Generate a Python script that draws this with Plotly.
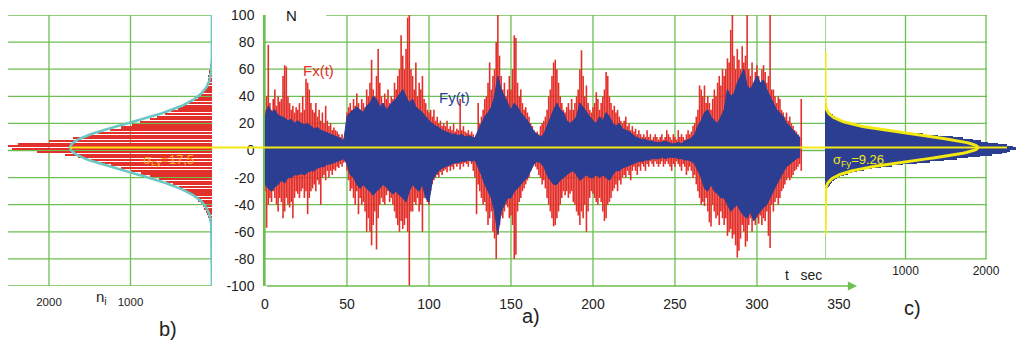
import math
import plotly.graph_objects as go

W, H = 1016, 344

# ---------------- data ----------------
# Fx(t): upper / lower envelope, one sample per second, t = 0 .. 327 s
fx_hi = [
    30, 40, 78, 35, 30, 38, 45, 33, 40, 36,
    38, 55, 63, 62, 40, 35, 30, 33, 28, 32,
    30, 35, 28, 40, 30, 53, 50, 45, 35, 30,
    28, 35, 25, 30, 22, 28, 20, 33, 22, 18,
    20, 15, 17, 15, 14, 12, 10, 12, 9, 8,
    28, 32, 35, 30, 38, 33, 42, 35, 30, 38,
    35, 32, 45, 40, 50, 67, 45, 40, 55, 75,
    50, 40, 35, 42, 38, 45, 35, 40, 38, 50,
    45, 55, 60, 85, 70, 60, 75, 98, 100, 60,
    55, 45, 65, 40, 50, 45, 55, 38, 35, 30,
    28, 30, 25, 30, 22, 25, 20, 22, 18, 20,
    18, 22, 16, 18, 15, 20, 14, 16, 15, 38,
    15, 18, 14, 13, 15, 12, 14, 12, 10, 12,
    35, 20, 25, 30, 38, 40, 50, 65, 45, 55,
    60, 80, 100, 70, 55, 45, 50, 40, 45, 55,
    45, 60, 85, 83, 50, 40, 45, 35, 30, 32,
    28, 25, 20, 18, 15, 12, 14, 12, 18, 20,
    22, 25, 30, 40, 45, 55, 65, 67, 60, 50,
    40, 35, 30, 28, 32, 35, 30, 38, 30, 35,
    40, 45, 60, 74, 55, 40, 48, 35, 30, 28,
    32, 35, 43, 38, 30, 35, 40, 45, 58, 55,
    40, 35, 30, 33, 28, 30, 25, 22, 20, 22,
    25, 18, 20, 15, 18, 14, 16, 12, 15, 12,
    10, 12, 10, 15, 10, 12, 8, 10, 12, 10,
    8, 10, 12, 8, 10, 15, 12, 10, 8, 12,
    10, 8, 15, 10, 12, 10, 8, 12, 15, 12,
    14, 18, 20, 25, 30, 48, 45, 40, 48, 35,
    40, 35, 30, 38, 45, 40, 50, 55, 48, 60,
    55, 60, 68, 65, 89, 100, 70, 60, 75, 67,
    60, 77, 65, 70, 100, 60, 55, 65, 50, 58,
    63, 55, 50, 60, 63, 58, 50, 55, 100, 45,
    45, 40, 35, 40, 38, 30, 28, 25, 28, 22,
    25, 20, 18, 15, 14, 12, 10, 38,
]
fx_lo = [
    -30, -57, -40, -35, -38, -30, -35, -40, -45, -35,
    -38, -50, -45, -35, -40, -42, -38, -50, -35, -30,
    -32, -35, -30, -28, -35, -30, -47, -35, -30, -28,
    -25, -30, -22, -25, -40, -20, -18, -22, -15, -20,
    -15, -18, -14, -15, -12, -13, -10, -12, -9, -8,
    -15, -22, -30, -28, -35, -40, -30, -47, -35, -40,
    -38, -45, -60, -50, -60, -70, -55, -45, -73, -50,
    -40, -35, -38, -40, -33, -30, -38, -35, -40, -45,
    -50, -55, -60, -52, -58, -55, -50, -60, -100, -45,
    -45, -38, -40, -35, -45, -40, -60, -35, -30, -38,
    -40, -30, -25, -22, -20, -18, -20, -16, -18, -15,
    -14, -16, -12, -15, -12, -14, -10, -12, -10, -14,
    -10, -12, -9, -10, -12, -8, -10, -15, -20, -47,
    -25, -30, -35, -40, -38, -45, -55, -50, -45, -60,
    -65, -80, -62, -55, -48, -50, -45, -40, -42, -50,
    -48, -55, -80, -77, -45, -38, -35, -30, -28, -25,
    -22, -20, -15, -12, -10, -12, -14, -18, -20, -25,
    -22, -28, -35, -40, -45, -50, -56, -55, -50, -45,
    -40, -35, -30, -33, -30, -35, -32, -30, -38, -40,
    -45, -48, -55, -45, -50, -40, -60, -45, -35, -30,
    -32, -35, -38, -40, -35, -38, -45, -52, -50, -40,
    -38, -35, -30, -28, -25, -30, -22, -25, -20, -18,
    -20, -15, -18, -22, -15, -12, -15, -18, -12, -15,
    -10, -12, -15, -10, -12, -8, -10, -12, -8, -10,
    -12, -10, -8, -12, -10, -8, -10, -12, -15, -10,
    -12, -8, -10, -12, -15, -10, -12, -18, -15, -12,
    -15, -20, -18, -25, -30, -35, -40, -38, -41, -35,
    -45, -53, -56, -40, -45, -50, -48, -55, -45, -50,
    -55, -50, -63, -60, -58, -65, -62, -70, -79, -74,
    -65, -55, -60, -71, -67, -55, -50, -60, -48, -55,
    -50, -54, -48, -55, -50, -52, -45, -63, -72, -40,
    -45, -38, -35, -40, -35, -30, -28, -25, -22, -20,
    -22, -20, -18, -15, -14, -12, -10, -15,
]
fx_t = list(range(len(fx_hi)))

# Fy(t): upper / lower envelope, one sample every 2 s, t = 0 .. 326 s
fy_hi = [
    25, 33, 28, 30, 26, 25, 24, 22, 23, 20,
    22, 20, 19, 20, 18, 16, 17, 15, 14, 13,
    12, 11, 10, 9, 7, 25, 28, 30, 32, 30,
    28, 33, 35, 40, 38, 32, 35, 30, 33, 36,
    38, 42, 45, 40, 35, 38, 32, 30, 28, 25,
    22, 20, 18, 17, 15, 14, 13, 12, 12, 11,
    12, 10, 11, 10, 9, 15, 20, 25, 28, 32,
    40, 55, 45, 40, 35, 30, 35, 32, 28, 25,
    22, 18, 14, 12, 10, 12, 18, 25, 30, 35,
    30, 28, 22, 20, 22, 25, 35, 32, 28, 25,
    22, 20, 25, 22, 28, 25, 20, 18, 20, 16,
    15, 14, 12, 10, 9, 8, 8, 7, 7, 6,
    6, 6, 7, 6, 5, 5, 6, 5, 7, 8,
    9, 12, 18, 22, 28, 30, 25, 22, 20, 25,
    30, 45, 40, 42, 50, 55, 60, 48, 45, 50,
    55, 50, 52, 45, 40, 35, 30, 28, 25, 20,
    18, 15, 12, 10,
]
fy_lo = [
    -25, -28, -30, -27, -25, -22, -24, -20, -20, -18,
    -18, -17, -18, -16, -15, -15, -13, -12, -12, -10,
    -10, -9, -8, -7, -6, -10, -18, -20, -25, -28,
    -25, -28, -30, -33, -30, -28, -25, -27, -30, -32,
    -30, -33, -35, -38, -30, -25, -28, -30, -25, -35,
    -38, -22, -18, -15, -13, -12, -11, -10, -9, -9,
    -8, -8, -7, -8, -7, -12, -18, -25, -30, -35,
    -45, -62, -45, -40, -35, -35, -30, -28, -25, -22,
    -20, -15, -10, -8, -9, -12, -18, -22, -25, -25,
    -22, -20, -18, -16, -15, -18, -22, -20, -18, -20,
    -20, -18, -20, -18, -20, -22, -18, -15, -15, -13,
    -12, -11, -10, -9, -8, -8, -7, -7, -6, -6,
    -6, -5, -6, -5, -5, -5, -6, -6, -7, -7,
    -8, -10, -15, -20, -28, -30, -25, -30, -32, -35,
    -35, -40, -45, -42, -40, -45, -48, -50, -45, -52,
    -48, -45, -42, -40, -35, -30, -25, -20, -16, -12,
    -10, -8, -6, -5,
]
fy_t = [2 * i for i in range(len(fy_hi))]

# histogram of Fx (2 N bins) and of Fy (1 N bins)
fx_bins = list(range(-55, 66, 2))
fx_counts = [
    15, 25, 35, 50, 60, 75, 95, 115, 140, 170,
    200, 240, 290, 340, 400, 480, 560, 650, 760, 870,
    1000, 1120, 1240, 1360, 1480, 1650, 1800, 2150, 2450, 2500,
    2380, 2000, 1700, 1550, 1400, 1250, 1120, 980, 880, 760,
    680, 580, 500, 420, 350, 280, 220, 170, 140, 110,
    90, 75, 65, 55, 50, 45, 40, 38, 30, 22,
    12,
]
fy_bins = list(range(-30, 34))
fy_counts = [
    15, 20, 25, 35, 45, 60, 75, 90, 110, 130,
    150, 185, 230, 280, 340, 400, 490, 590, 690, 830,
    970, 1140, 1310, 1480, 1640, 1780, 1920, 2080, 2200, 2260,
    2300, 2380, 2400, 2330, 2260, 2150, 2030, 1940, 1840, 1720,
    1590, 1400, 1220, 1050, 920, 800, 680, 560, 460, 390,
    330, 270, 220, 170, 140, 125, 100, 80, 65, 50,
    40, 30, 20, 12,
]

# normal fits
MEAN_LEVEL = 2.2
SIGMA_FX, PEAK_FX = 17.5, 1740
SIGMA_FY, PEAK_FY = 9.26, 1900

y_ticks = list(range(-100, 101, 20))
t_ticks = [0, 50, 100, 150, 200, 250, 300, 350]
nb_ticks = [2000, 1000]
nc_ticks = [1000, 2000]

# ---------------- styling ----------------
RED = "#e3302a"
BLUE = "#2c3e92"
GREEN = "#6cbf50"
TEAL = "#6cc6c4"
YELLOW = "#f4e812"
ORANGE = "#ffb224"
FONT = "Liberation Sans, Arial, sans-serif"


def px(x):
    return x / W


def py(y):
    return 1 - y / H


Y_DOM = [py(286), py(15)]

fig = go.Figure()

# Fx(t) as dense vertical strokes
sx, sy = [], []
for t, lo, hi in zip(fx_t, fx_lo, fx_hi):
    sx += [t, t, None]
    sy += [lo, hi, None]
fig.add_trace(go.Scatter(x=sx, y=sy, mode="lines", line=dict(color=RED, width=1.6),
                         xaxis="x2", yaxis="y2", hoverinfo="skip"))

# Fy(t) as filled envelope
fig.add_trace(go.Scatter(x=fy_t + fy_t[::-1], y=fy_hi + fy_lo[::-1], mode="lines",
                         fill="toself", fillcolor=BLUE, line=dict(color=BLUE, width=1),
                         xaxis="x2", yaxis="y2", hoverinfo="skip"))

# b) distribution of Fx
fig.add_trace(go.Bar(x=fx_counts, y=fx_bins, orientation="h", width=1.55,
                     marker=dict(color=RED, line=dict(width=0)),
                     xaxis="x", yaxis="y", hoverinfo="skip"))
gy = [-100 + 0.5 * i for i in range(401)]
fig.add_trace(go.Scatter(
    x=[PEAK_FX * math.exp(-0.5 * ((v - MEAN_LEVEL) / SIGMA_FX) ** 2) for v in gy], y=gy,
    mode="lines", line=dict(color=TEAL, width=2.6), xaxis="x", yaxis="y", hoverinfo="skip"))

# c) distribution of Fy
fig.add_trace(go.Bar(x=fy_counts, y=fy_bins, orientation="h", width=1.0,
                     marker=dict(color=BLUE, line=dict(width=0)),
                     xaxis="x3", yaxis="y3", hoverinfo="skip"))
cy = [-62 + 0.5 * i for i in range(271)]
fig.add_trace(go.Scatter(
    x=[PEAK_FY * math.exp(-0.5 * ((v - MEAN_LEVEL) / SIGMA_FY) ** 2) for v in cy], y=cy,
    mode="lines", line=dict(color=YELLOW, width=3), xaxis="x3", yaxis="y3", hoverinfo="skip"))

shapes = []
# grid of panel b
for v in y_ticks:
    shapes.append(dict(type="line", xref="paper", yref="y", x0=px(8), x1=px(212), y0=v, y1=v,
                       line=dict(color=GREEN, width=1.3), layer="below"))
for n in nb_ticks:
    shapes.append(dict(type="line", xref="x", yref="y", x0=n, x1=n, y0=-100, y1=100,
                       line=dict(color=GREEN, width=1.3), layer="below"))
# grid of panels a and c
for v in y_ticks[1:]:
    shapes.append(dict(type="line", xref="paper", yref="y2", x0=px(326 if v == 100 else 265),
                       x1=px(987), y0=v, y1=v, line=dict(color=GREEN, width=1.3), layer="below"))
for t in t_ticks[:-1]:
    shapes.append(dict(type="line", xref="x2", yref="y2", x0=t, x1=t, y0=-100, y1=100,
                       line=dict(color=GREEN, width=1.3), layer="below"))
for n in [0] + nc_ticks:
    shapes.append(dict(type="line", xref="x3", yref="y3", x0=n, x1=n, y0=-80, y1=100,
                       line=dict(color=GREEN, width=1.3), layer="below"))
# mean level
shapes.append(dict(type="line", xref="paper", yref="y2", x0=px(70), x1=px(1007),
                   y0=MEAN_LEVEL, y1=MEAN_LEVEL, line=dict(color=YELLOW, width=2), layer="above"))


def label(x, y, text, size, color="#222"):
    return dict(xref="paper", yref="paper", x=px(x), y=py(y), xanchor="center",
                yanchor="middle", text=text, showarrow=False,
                font=dict(family=FONT, size=size, color=color))


annotations = [
    # time axis arrow
    dict(xref="x2", yref="y2", axref="x2", ayref="y2", x=361, y=-100, ax=0, ay=-100,
         text="", showarrow=True, arrowhead=2, arrowsize=1.3, arrowwidth=1.4, arrowcolor=GREEN),
    label(291, 16, "N", 15, "#111"),
    label(318, 70, "Fx(t)", 15, RED),
    label(454, 97, "Fy(t)", 15, BLUE),
    label(168, 161, "σ<sub>Fx</sub>=17,5", 13, ORANGE),
    label(858, 161, "σ<sub>Fy</sub>=9.26", 13, YELLOW),
    label(803, 275, "t   sec", 14),
    label(101, 297, "n<sub>i</sub>", 15),
    label(531, 316, "a)", 20),
    label(168, 329, "b)", 20),
    label(912, 308, "c)", 20),
]

hidden_y = dict(domain=Y_DOM, range=[-100, 100], showgrid=False, zeroline=False,
                showticklabels=False, showline=False, fixedrange=True, automargin=False)

fig.update_layout(
    width=W, height=H, margin=dict(l=0, r=0, t=0, b=0, autoexpand=False),
    paper_bgcolor="white", plot_bgcolor="rgba(0,0,0,0)",
    showlegend=False, bargap=0,
    font=dict(family=FONT, color="#222"),
    xaxis=dict(domain=[px(8), px(212)], range=[2503, 0], anchor="y", showgrid=False,
               zeroline=False, showline=False, tickvals=nb_ticks, ticks="outside", ticklen=5,
               tickcolor="rgba(0,0,0,0)", tickfont=dict(size=11.5, color="#222"),
               automargin=False),
    yaxis=hidden_y,
    xaxis2=dict(domain=[px(265), px(857)], range=[0, 361], anchor="y2", showgrid=False,
                zeroline=False, showline=False, tickvals=t_ticks, ticks="outside", ticklen=5,
                tickcolor="rgba(0,0,0,0)", tickfont=dict(size=14, color="#222"),
                automargin=False),
    yaxis2=dict(domain=Y_DOM, range=[-100, 100], anchor="x2", showgrid=False, zeroline=False,
                showline=True, linecolor=GREEN, linewidth=1.5, tickvals=y_ticks,
                ticktext=[str(v) for v in y_ticks], ticks="outside", ticklen=6,
                tickcolor="rgba(0,0,0,0)", tickfont=dict(size=14, color="#222"),
                automargin=False),
    xaxis3=dict(domain=[px(825), 1.0], range=[0, 2373], anchor="free", position=py(262),
                showgrid=False, zeroline=False, showline=False, tickvals=nc_ticks,
                ticks="", tickfont=dict(size=12, color="#222"), automargin=False),
    yaxis3=dict(hidden_y, anchor="x3"),
    shapes=shapes,
    annotations=annotations,
)

fig.write_html("out.html")
